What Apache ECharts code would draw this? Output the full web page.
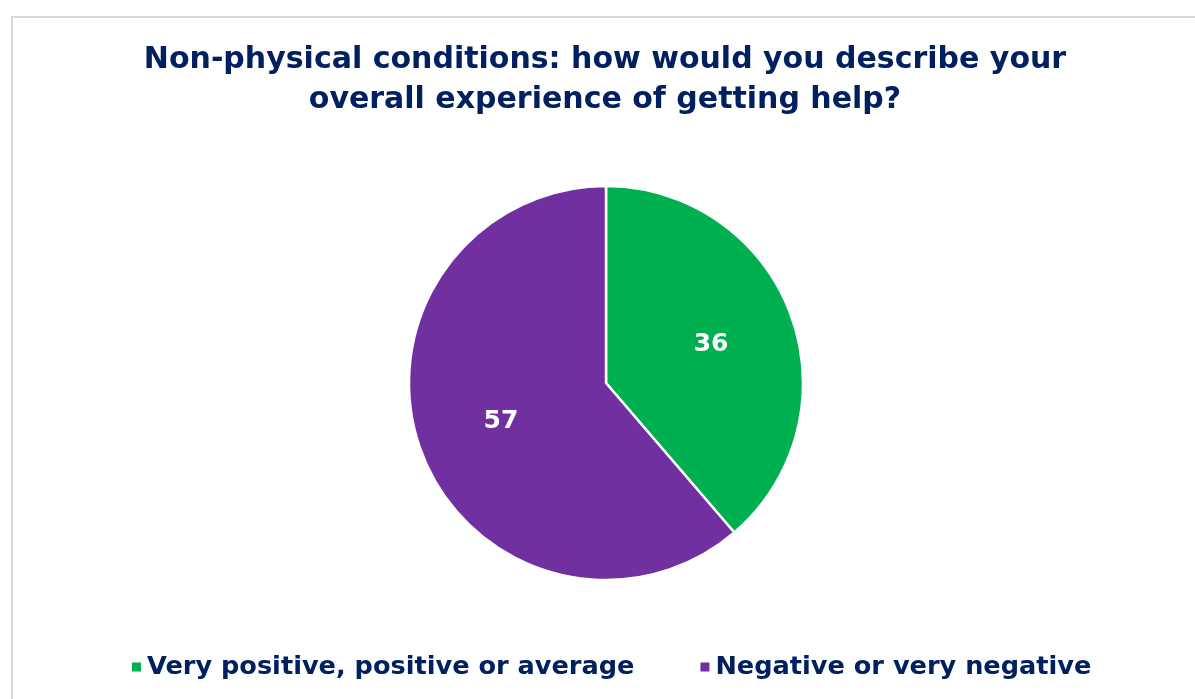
<!DOCTYPE html>
<html><head><meta charset="utf-8">
<script src="https://cdn.jsdelivr.net/npm/echarts@6/dist/echarts.min.js"></script>
<style>html,body{margin:0;padding:0;background:#fff}#c{width:1195px;height:699px}</style>
</head><body><div id="c"></div>
<script>
const titleText = "Non-physical conditions: how would you describe your\noverall experience of getting help?";
const categories = ["Very positive, positive or average", "Negative or very negative"];
const values = [36, 57];
const colors = ["#00B050", "#7030A0"];
const FONT = "DejaVu Sans";
const TEXT = "#002060";

const chart = echarts.init(document.getElementById('c'), null, {renderer: 'canvas'});
const data = categories.map((n, i) => ({name: n, value: values[i], itemStyle: {color: colors[i]}}));
chart.setOption({
  animation: false,
  graphic: [{type: 'rect', shape: {x: 12, y: 17, width: 1200, height: 700}, style: {fill: 'none', stroke: '#d9d9d9', lineWidth: 2}, silent: true}],
  title: {text: titleText, left: 600, textAlign: 'center', top: 35, textStyle: {fontFamily: FONT, fontWeight: 'bold', fontSize: 30, color: TEXT, lineHeight: 40}},
  legend: {data: categories, bottom: 14, left: 125, itemWidth: 11, itemHeight: 11, itemGap: 64, icon: 'rect',
    textStyle: {fontFamily: FONT, fontWeight: 'bold', fontSize: 25.6, color: TEXT}},
  series: [
    {type: 'pie', center: [606, 383], radius: [0, 197], startAngle: 90, clockwise: true,
      itemStyle: {borderColor: '#fff', borderWidth: 2.5}, label: {show: false}, labelLine: {show: false}, data: data},
    {type: 'pie', center: [606, 383], radius: [0, 218], startAngle: 90, clockwise: true, silent: true,
      itemStyle: {color: 'rgba(0,0,0,0)'}, legendHoverLink: false,
      label: {show: true, position: 'inside', formatter: '{c}', fontFamily: FONT, fontWeight: 'bold', fontSize: 25, color: '#fff'},
      labelLine: {show: false}, data: categories.map((n, i) => ({name: n, value: values[i], itemStyle: {color: 'rgba(0,0,0,0)'}}))}
  ]
});
</script></body></html>
